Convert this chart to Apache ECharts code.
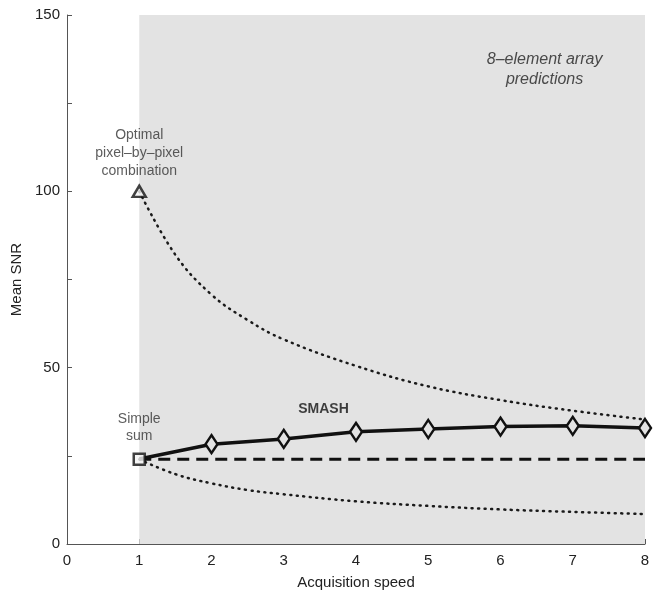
<!DOCTYPE html>
<html>
<head>
<meta charset="utf-8">
<script src="https://cdn.jsdelivr.net/npm/echarts@6/dist/echarts.min.js"></script>
<style>
  html, body { margin: 0; padding: 0; background: #fff; }
  #chart { width: 659px; height: 601px; }
</style>
</head>
<body>
<div id="chart"></div>
<script>
// acquisition speeds for the dotted prediction curves
const curveSpeeds = [1, 1.5, 2, 2.5, 3, 4, 5, 6, 7, 8]
const optimalCurve = [100, 82, 70.7, 63.5, 58, 50.5, 44.7, 40.8, 37.8, 35.3]
const simpleCurve = [24, 19.8, 17.2, 15.3, 14.1, 12.1, 10.8, 9.8, 9.1, 8.5]

// SMASH points
const speeds = [1, 2, 3, 4, 5, 6, 7, 8]
const smash = [24.1, 28.3, 29.8, 31.8, 32.6, 33.3, 33.5, 32.9]
const simpleSum = 24
const optimal = 100

const xTicks = [0, 1, 2, 3, 4, 5, 6, 7, 8]
const yTickLabels = [0, 50, 100, 150]

const optimalText = 'Optimal\npixel–by–pixel\ncombination'
const simpleText = 'Simple\nsum'
const smashText = 'SMASH'
const arrayText = '8–element array\npredictions'

const chart = echarts.init(document.getElementById('chart'))

const font = 'Liberation Sans, Arial, sans-serif'
const ink = '#111'

const pairs = (xs, ys) => xs.map((x, i) => [x, ys[i]])

const option = {
  animation: false,
  backgroundColor: '#fff',
  textStyle: { fontFamily: font },
  grid: { left: 67, right: 14, top: 15, bottom: 57, outerBoundsMode: 'none', containLabel: false },
  xAxis: {
    type: 'value',
    min: 0,
    max: 8,
    interval: 1,
    name: 'Acquisition speed',
    nameLocation: 'middle',
    nameGap: 31,
    nameTextStyle: { fontSize: 15, color: '#222', fontFamily: font },
    axisLine: { lineStyle: { color: '#555', width: 1 } },
    axisTick: { inside: true, length: 5, lineStyle: { color: '#555' } },
    axisLabel: {
      fontSize: 15, color: '#222', fontFamily: font, margin: 9,
      formatter: v => xTicks.includes(v) ? String(v) : ''
    },
    splitLine: { show: false }
  },
  yAxis: {
    type: 'value',
    min: 0,
    max: 150,
    interval: 25,
    name: 'Mean SNR',
    nameLocation: 'middle',
    nameGap: 42,
    nameTextStyle: { fontSize: 15, color: '#222', fontFamily: font },
    axisLine: { show: true, lineStyle: { color: '#555', width: 1 } },
    axisTick: { show: true, inside: true, length: 5, lineStyle: { color: '#555' } },
    axisLabel: {
      fontSize: 15, color: '#222', fontFamily: font, margin: 7,
      formatter: v => yTickLabels.includes(v) ? String(v) : ''
    },
    splitLine: { show: false }
  },
  series: [
    {
      name: 'shade',
      type: 'line',
      data: [],
      z: 0,
      silent: true,
      markArea: {
        silent: true,
        itemStyle: { color: '#e3e3e3' },
        data: [[{ xAxis: 1, yAxis: 0 }, { xAxis: 8, yAxis: 150 }]]
      }
    },
    {
      name: 'optimal curve',
      type: 'line',
      smooth: 0.4,
      symbol: 'none',
      data: pairs(curveSpeeds, optimalCurve),
      lineStyle: { color: '#1a1a1a', width: 2.5, type: [1, 5.5], cap: 'round' },
      z: 2
    },
    {
      name: 'simple curve',
      type: 'line',
      smooth: 0.4,
      symbol: 'none',
      data: pairs(curveSpeeds, simpleCurve),
      lineStyle: { color: '#1a1a1a', width: 2.5, type: [1, 5.5], cap: 'round' },
      z: 2
    },
    {
      name: 'simple sum',
      type: 'line',
      symbol: 'none',
      data: [[speeds[0], simpleSum], [speeds[speeds.length - 1], simpleSum]],
      lineStyle: { color: ink, width: 3, type: [12, 7] },
      z: 2
    },
    {
      name: 'SMASH',
      type: 'line',
      data: pairs(speeds, smash),
      symbol: (v, p) => p.dataIndex === 0 ? 'none' : 'diamond',
      symbolSize: [12, 18],
      showAllSymbol: true,
      lineStyle: { color: ink, width: 3.5 },
      itemStyle: { color: '#e3e3e3', borderColor: ink, borderWidth: 2.5 },
      z: 3
    },
    {
      name: 'markers',
      type: 'scatter',
      z: 4,
      data: [
        {
          value: [speeds[0], simpleSum],
          symbol: 'rect',
          symbolSize: 11,
          itemStyle: { color: '#f4f4f4', borderColor: ink, borderWidth: 2.5 },
          label: {
            show: true, position: 'top', distance: 8,
            formatter: simpleText, fontSize: 14, lineHeight: 17, color: '#333', align: 'center'
          }
        },
        {
          value: [speeds[0], optimal],
          symbol: 'triangle',
          symbolSize: [13, 11],
          itemStyle: { color: '#f4f4f4', borderColor: ink, borderWidth: 2.5 },
          label: {
            show: true, position: 'top', distance: 5,
            formatter: optimalText, fontSize: 14, lineHeight: 18, color: '#333', align: 'center'
          }
        }
      ]
    },
    {
      name: 'text',
      type: 'scatter',
      symbolSize: 0,
      z: 5,
      silent: true,
      data: [
        {
          value: [3.55, 38.2],
          label: {
            show: true, position: 'inside', formatter: smashText,
            fontSize: 14, fontWeight: 'bold', color: ink
          }
        },
        {
          value: [6.61, 134.5],
          label: {
            show: true, position: 'inside', formatter: arrayText,
            fontSize: 16, fontStyle: 'italic', lineHeight: 20, color: '#222', align: 'center'
          }
        }
      ]
    }
  ]
}

chart.setOption(option)
</script>
</body>
</html>
